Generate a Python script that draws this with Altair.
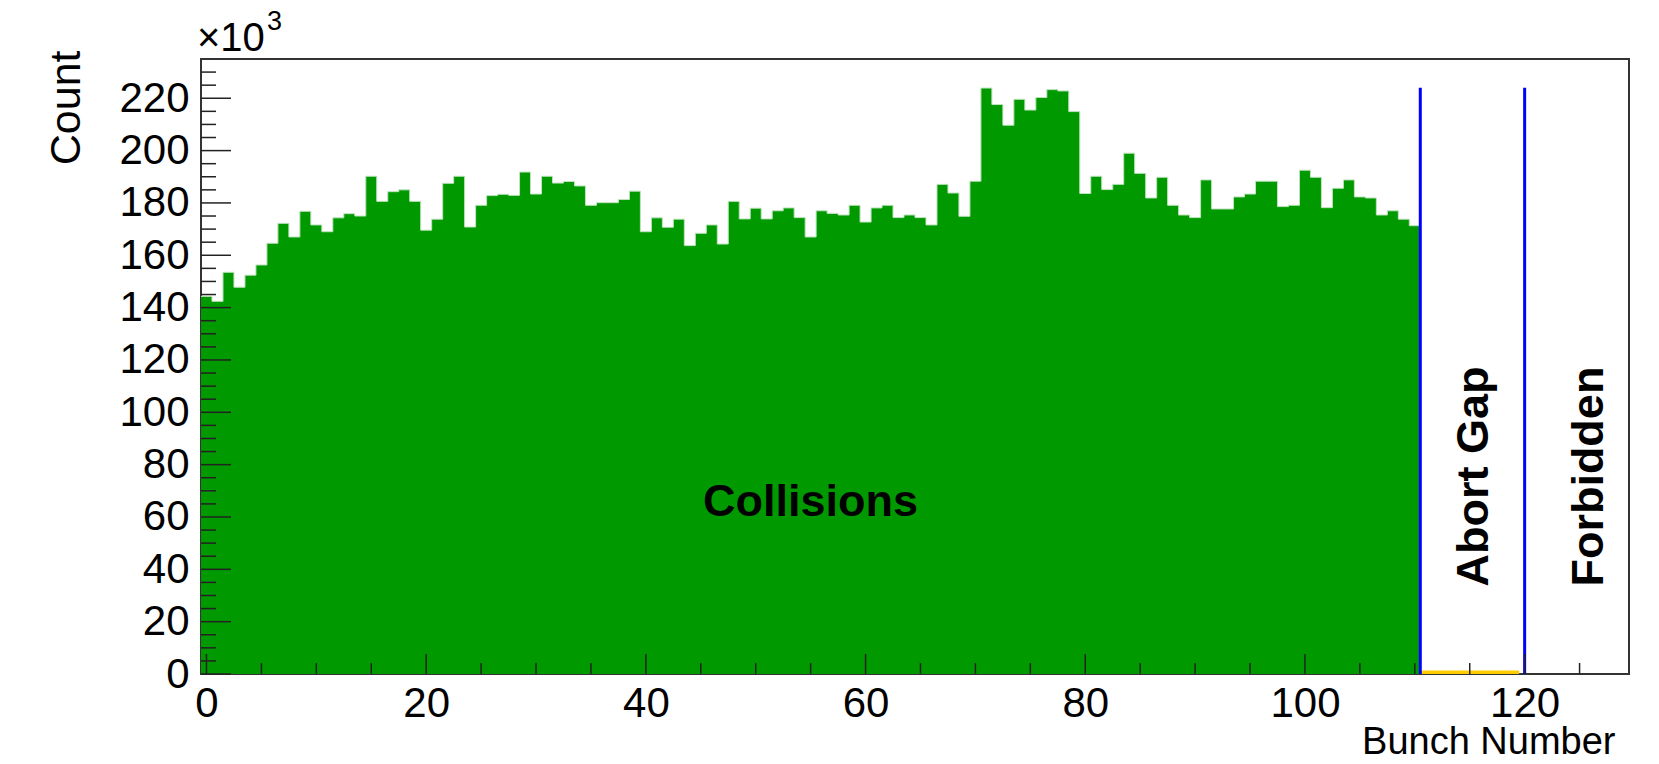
import altair as alt
import pandas as pd

# Bunch-crossing occupancy, counts in units of 10^3
collision_bunches = list(range(0, 111))
collision_counts_k = [
    144.3, 142.4, 153.5, 147.8, 152.4, 156.3, 164.6, 172.2, 167.0, 176.8,
    171.6, 169.0, 174.3, 175.9, 175.0, 190.2, 180.6, 184.3, 185.0, 180.6,
    169.6, 173.8, 187.5, 190.2, 170.8, 179.1, 182.8, 183.3, 182.9, 191.8,
    183.4, 190.2, 187.6, 188.2, 186.5, 179.1, 180.1, 180.1, 181.3, 184.5,
    169.0, 174.3, 170.7, 173.8, 163.7, 168.4, 171.6, 164.3, 180.6, 173.9,
    178.0, 173.9, 177.0, 178.1, 174.4, 167.0, 177.0, 176.0, 175.4, 179.1,
    172.7, 178.1, 179.1, 174.4, 175.4, 174.4, 171.6, 187.1, 183.8, 174.9,
    188.3, 223.9, 217.6, 209.7, 219.6, 215.5, 220.3, 223.3, 222.8, 214.9,
    183.6, 190.2, 185.1, 187.1, 199.0, 191.3, 181.9, 189.8, 179.1, 175.4,
    174.4, 188.8, 177.7, 177.7, 182.3, 183.4, 188.3, 188.3, 178.6, 179.1,
    192.5, 189.8, 178.2, 185.6, 188.8, 182.3, 181.9, 175.4, 177.0, 173.8,
    171.3,
]
gap_bunches = [111, 112, 113, 114, 115, 116, 117, 118, 119]
gap_counts_k = [1.3, 1.3, 1.3, 1.3, 1.3, 1.3, 1.3, 1.3, 1.3]

region_edges = [110.5, 120.0]
region_line_top_k = 224.0

y_major = [0, 20, 40, 60, 80, 100, 120, 140, 160, 180, 200, 220]
y_minor = [5, 10, 15, 25, 30, 35, 45, 50, 55, 65, 70, 75, 85, 90, 95,
           105, 110, 115, 125, 130, 135, 145, 150, 155, 165, 170, 175,
           185, 190, 195, 205, 210, 215, 225, 230]
x_major = [0, 20, 40, 60, 80, 100, 120]
x_minor = [5, 10, 15, 25, 30, 35, 45, 50, 55, 65, 70, 75, 85, 90, 95,
           105, 110, 115, 125]

FONT = "Liberation Sans"
W, H = 1428, 615


def step_table(bunches, counts):
    # histogram outline: each bin spans [b-0.5, b+0.5]
    edges = [b - 0.5 for b in bunches] + [bunches[-1] + 0.5]
    vals = list(counts) + [counts[-1]]
    return pd.DataFrame({"edge": edges, "count": vals})


coll = step_table(collision_bunches, collision_counts_k)
gap = step_table(gap_bunches, gap_counts_k)

xs = alt.Scale(domain=[-0.5, 129.5], nice=False, zero=False)
ys = alt.Scale(domain=[0, 235], nice=False, zero=False)

x_axis = alt.Axis(
    values=x_major, ticks=False, domain=False, grid=False,
    labelFont=FONT, labelFontSize=42, labelColor="black", labelPadding=9,
    title="Bunch Number", titleFont=FONT, titleFontSize=38,
    titleFontWeight="normal", titleColor="black",
    titleAlign="right", titleBaseline="alphabetic", titleX=W - 14, titleY=79,
)
y_axis = alt.Axis(
    values=y_major, ticks=False, domain=False, grid=False,
    labelFont=FONT, labelFontSize=42, labelColor="black", labelPadding=12,
    title="Count", titleFont=FONT, titleFontSize=43,
    titleFontWeight="normal", titleColor="black", titleAngle=270,
    titleAlign="right", titleBaseline="alphabetic", titleX=-122, titleY=-9,
)


def X(field):
    return alt.X(field, scale=xs, axis=x_axis)


def Y(field):
    return alt.Y(field, scale=ys, axis=y_axis)


green_fill = alt.Chart(coll).mark_area(
    interpolate="step-after", color="#009900"
).encode(x=X("edge:Q"), y=Y("count:Q"))

green_edge = alt.Chart(coll).mark_line(
    interpolate="step-after", color="#bfe3bf", strokeWidth=1
).encode(x=X("edge:Q"), y=Y("count:Q"))

gap_fill = alt.Chart(gap).mark_area(
    interpolate="step-after", color="#ffcc00"
).encode(x=X("edge:Q"), y=Y("count:Q"))

bounds = pd.DataFrame({
    "edge": region_edges,
    "top": [region_line_top_k] * len(region_edges),
    "base": [0.0] * len(region_edges),
})
boundary_lines = alt.Chart(bounds).mark_rule(
    color="#0000ff", strokeWidth=3
).encode(x=X("edge:Q"), y=Y("top:Q"), y2="base:Q")

# inward-pointing ticks on the left and bottom frame edges
tick_style = dict(color="#222222", strokeWidth=1.5)
y_major_ticks = alt.Chart(pd.DataFrame({"v": y_major})).mark_rule(**tick_style).encode(
    y=Y("v:Q"), x=alt.value(0), x2=alt.value(30))
y_minor_ticks = alt.Chart(pd.DataFrame({"v": y_minor})).mark_rule(**tick_style).encode(
    y=Y("v:Q"), x=alt.value(0), x2=alt.value(15))
x_major_ticks = alt.Chart(pd.DataFrame({"v": x_major})).mark_rule(**tick_style).encode(
    x=X("v:Q"), y=alt.value(H), y2=alt.value(H - 20))
x_minor_ticks = alt.Chart(pd.DataFrame({"v": x_minor})).mark_rule(**tick_style).encode(
    x=X("v:Q"), y=alt.value(H), y2=alt.value(H - 11))

# region labels
collisions_label = alt.Chart(pd.DataFrame({"t": ["Collisions"], "x": [45.2], "y": [60.5]})).mark_text(
    font=FONT, fontSize=45, fontWeight="bold", align="left", baseline="alphabetic", color="black"
).encode(x=X("x:Q"), y=Y("y:Q"), text="t:N")

side_labels = alt.Chart(pd.DataFrame({
    "t": ["Abort Gap", "Forbidden"], "x": [116.7, 127.1], "y": [33.4, 33.4]
})).mark_text(
    font=FONT, fontSize=45, fontWeight="bold", align="left", baseline="alphabetic",
    angle=270, color="black"
).encode(x=X("x:Q"), y=Y("y:Q"), text="t:N")

# axis multiplier above the y axis
mult_base = alt.Chart(pd.DataFrame({"t": ["\u00d710"]})).mark_text(
    font=FONT, fontSize=40, align="left", baseline="alphabetic", color="black"
).encode(x=alt.value(-4), y=alt.value(-8), text="t:N")
mult_exp = alt.Chart(pd.DataFrame({"t": ["3"]})).mark_text(
    font=FONT, fontSize=27, align="left", baseline="alphabetic", color="black"
).encode(x=alt.value(66), y=alt.value(-29), text="t:N")

chart = alt.layer(
    green_fill, green_edge, gap_fill, boundary_lines,
    y_major_ticks, y_minor_ticks, x_major_ticks, x_minor_ticks,
    collisions_label, side_labels, mult_base, mult_exp,
).properties(
    width=W, height=H,
    autosize=alt.AutoSizeParams(type="none"),
    padding={"left": 201, "top": 59, "right": 30, "bottom": 90},
    background="white",
).configure_view(
    stroke="#333333", strokeWidth=2
)

chart.save("out.html", embed_options={"renderer": "svg", "actions": False})
